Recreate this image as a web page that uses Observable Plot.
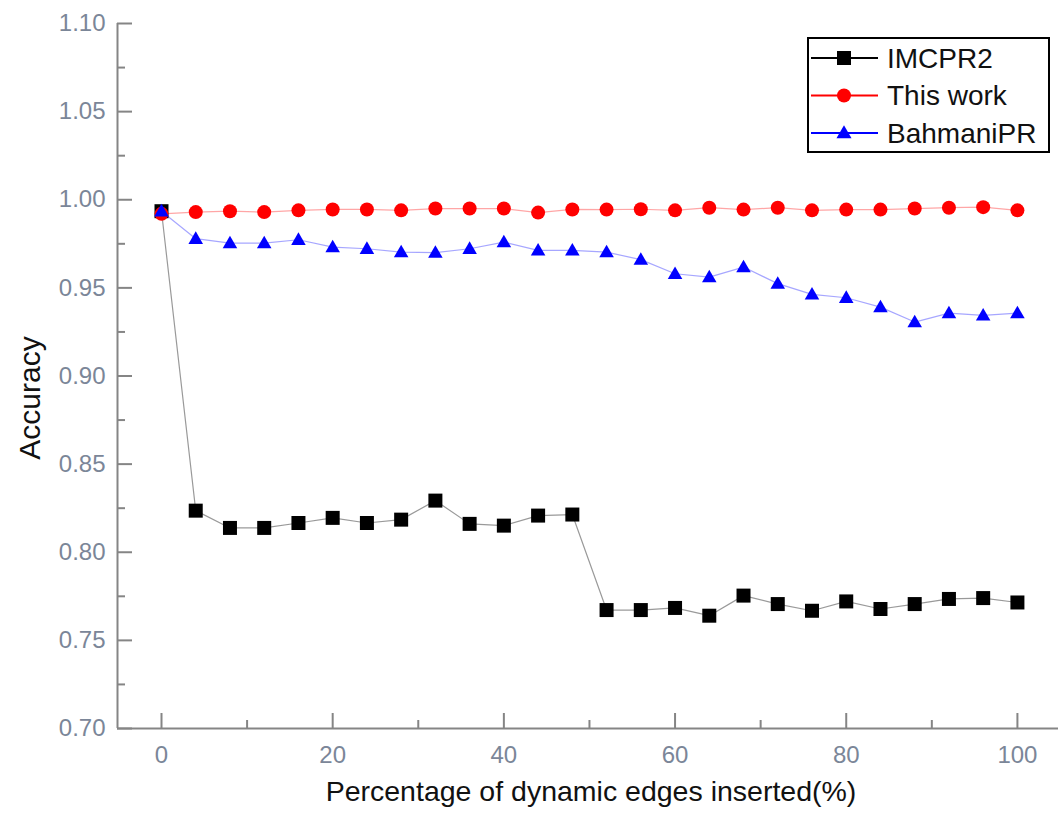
<!DOCTYPE html>
<html>
<head>
<meta charset="utf-8">
<script src="https://cdn.jsdelivr.net/npm/d3@7"></script>
<script src="https://cdn.jsdelivr.net/npm/@observablehq/plot@0.6"></script>
<style>
  html, body { margin: 0; padding: 0; background: #fff; }
  #wrap { position: relative; width: 1059px; height: 819px; font-family: "Liberation Sans", Arial, sans-serif; }
  #legend { position: absolute; left: 807px; top: 37px; }
</style>
</head>
<body>
<div id="wrap"></div>
<script>
const xValues = [0, 4, 8, 12, 16, 20, 24, 28, 32, 36, 40, 44, 48, 52, 56, 60, 64, 68, 72, 76, 80, 84, 88, 92, 96, 100];
const imcpr2 = [0.9935, 0.8236, 0.8138, 0.8138, 0.8166, 0.8195, 0.8166, 0.8185, 0.8293, 0.8161, 0.8151, 0.8208, 0.8214,
                0.7672, 0.7672, 0.7684, 0.7640, 0.7754, 0.7706, 0.7668, 0.7721, 0.7678, 0.7706, 0.7735, 0.7740, 0.7715];
const thisWork = [0.9920, 0.9930, 0.9935, 0.9930, 0.9940, 0.9945, 0.9945, 0.9940, 0.9950, 0.9950, 0.9950, 0.9927, 0.9945,
                  0.9944, 0.9946, 0.9940, 0.9955, 0.9944, 0.9955, 0.9940, 0.9944, 0.9944, 0.9950, 0.9955, 0.9958, 0.9940];
const bahmaniPR = [0.9935, 0.9779, 0.9754, 0.9754, 0.9773, 0.9731, 0.9722, 0.9703, 0.9700, 0.9722, 0.9760, 0.9713, 0.9713,
                   0.9703, 0.9660, 0.9580, 0.9561, 0.9618, 0.9524, 0.9463, 0.9444, 0.9391, 0.9306, 0.9357, 0.9344, 0.9357];
const seriesNames = ["IMCPR2", "This work", "BahmaniPR"];
const xTicks = [0, 20, 40, 60, 80, 100];
const xMinorTicks = [10, 30, 50, 70, 90];
const yTicks = [0.70, 0.75, 0.80, 0.85, 0.90, 0.95, 1.00, 1.05, 1.10];
const yMinorTicks = [0.725, 0.775, 0.825, 0.875, 0.925, 0.975, 1.025, 1.075];
const xTitle = "Percentage of dynamic edges inserted(%)";
const yTitle = "Accuracy";

const xDomain = [-5.14, 104.8];
const yDomain = [0.70, 1.10];

const rows = (vals) => xValues.map((x, i) => ({x, y: vals[i]}));
const dBlack = rows(imcpr2), dRed = rows(thisWork), dBlue = rows(bahmaniPR);

const axisColor = "#858585";
const tickTextColor = "#7b8698";

const chart = Plot.plot({
  width: 1059,
  height: 819,
  marginLeft: 117,
  marginRight: 1,
  marginTop: 23,
  marginBottom: 91,
  style: {fontFamily: "'Liberation Sans', Arial, sans-serif", background: "#fff", overflow: "visible"},
  x: {domain: xDomain},
  y: {domain: yDomain},
  marks: [
    // tick lines (inward)
    Plot.axisY({ticks: yTicks, tickSize: -15, strokeWidth: 2, stroke: axisColor, tickFormat: () => "", label: null}),
    Plot.axisY({ticks: yMinorTicks, tickSize: -8, strokeWidth: 2, stroke: axisColor, tickFormat: () => "", label: null}),
    Plot.axisX({ticks: xTicks, tickSize: -15, strokeWidth: 2, stroke: axisColor, tickFormat: () => "", label: null}),
    Plot.axisX({ticks: xMinorTicks, tickSize: -8, strokeWidth: 2, stroke: axisColor, tickFormat: () => "", label: null}),
    // tick labels
    Plot.axisY({ticks: yTicks, tickSize: 0, tickPadding: 12, tickFormat: d3.format(".2f"), label: null,
                fontSize: 24, fill: tickTextColor}),
    Plot.axisX({ticks: xTicks, tickSize: 0, tickPadding: 17, tickFormat: d3.format("d"), label: null,
                fontSize: 24, fill: tickTextColor}),
    // axis lines
    Plot.ruleX([xDomain[0]], {stroke: axisColor, strokeWidth: 2}),
    Plot.ruleY([yDomain[0]], {stroke: axisColor, strokeWidth: 2}),
    // titles
    Plot.text([yTitle], {frameAnchor: "left", textAnchor: "middle", rotate: -90, dx: -87, dy: 22, fontSize: 30, fill: "#111"}),
    Plot.text([xTitle], {frameAnchor: "bottom", dy: 72, dx: 3, fontSize: 28.5, fill: "#111"}),
    // lines
    Plot.line(dBlack, {x: "x", y: "y", stroke: "#000", strokeWidth: 1.2, strokeOpacity: 0.4}),
    Plot.line(dRed, {x: "x", y: "y", stroke: "#f00", strokeWidth: 1.2, strokeOpacity: 0.35}),
    Plot.line(dBlue, {x: "x", y: "y", stroke: "#00f", strokeWidth: 1.2, strokeOpacity: 0.35}),
    // markers
    Plot.dot(dBlack, {x: "x", y: "y", symbol: "square", r: 7.9, fill: "#000", stroke: "none"}),
    Plot.dot(dRed, {x: "x", y: "y", symbol: "circle", r: 7, fill: "#f00", stroke: "none"}),
    Plot.dot(dBlue, {x: "x", y: "y", symbol: "triangle", r: 5.4, fill: "#00f", stroke: "none", dy: 1})
  ]
});

const wrap = document.getElementById("wrap");
wrap.appendChild(chart);

// Legend
const legendSeries = [
  {name: seriesNames[0], color: "#000", symbol: d3.symbolSquare, size: 7.9 * 7.9 * Math.PI},
  {name: seriesNames[1], color: "#f00", symbol: d3.symbolCircle, size: 7 * 7 * Math.PI},
  {name: seriesNames[2], color: "#00f", symbol: d3.symbolTriangle, size: 5.6 * 5.6 * Math.PI}
];
const lg = d3.create("svg")
  .attr("id", "legend")
  .attr("width", 243)
  .attr("height", 116)
  .style("font-family", "'Liberation Sans', Arial, sans-serif");
lg.append("rect").attr("x", 1).attr("y", 1).attr("width", 241).attr("height", 114)
  .attr("fill", "#fff").attr("stroke", "#000").attr("stroke-width", 2);
legendSeries.forEach((s, i) => {
  const cy = 21 + i * 37.5;
  const g = lg.append("g");
  g.append("line").attr("x1", 4).attr("x2", 71).attr("y1", cy).attr("y2", cy)
    .attr("stroke", s.color).attr("stroke-width", 2);
  g.append("path").attr("d", d3.symbol(s.symbol, s.size)()).attr("transform", `translate(37,${cy + (i === 2 ? 1 : 0)})`)
    .attr("fill", s.color);
  g.append("text").attr("x", 80).attr("y", cy).attr("dy", "0.35em")
    .attr("font-size", 28).attr("fill", "#111").text(s.name);
});
wrap.appendChild(lg.node());
</script>
</body>
</html>
